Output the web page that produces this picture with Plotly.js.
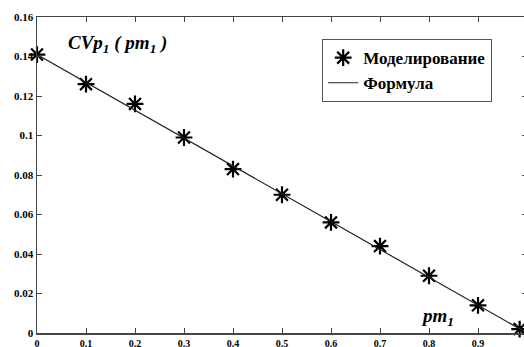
<!DOCTYPE html>
<html><head><meta charset="utf-8">
<script src="https://cdn.plot.ly/plotly-3.0.1.min.js"></script>
<style>html,body{margin:0;padding:0;overflow:hidden;background:#fff;}</style>
</head><body><div id="chart"></div>
<script>
const pm = [0, 0.1, 0.2, 0.3, 0.4, 0.5, 0.6, 0.7, 0.8, 0.9, 0.985];
const simValues = [0.141, 0.126, 0.116, 0.099, 0.083, 0.070, 0.056, 0.044, 0.029, 0.014, 0.002];
const formulaX = [0, 1];
const formulaY = [0.141, 0.0];
const xTicks = [0, 0.1, 0.2, 0.3, 0.4, 0.5, 0.6, 0.7, 0.8, 0.9];
const xTickText = ['0', '0.1', '0.2', '0.3', '0.4', '0.5', '0.6', '0.7', '0.8', '0.9'];
const yTicks = [0, 0.02, 0.04, 0.06, 0.08, 0.1, 0.12, 0.14, 0.16];
const seriesNames = ['Моделирование', 'Формула'];

const serif = 'Liberation Serif';
const traces = [
  {x: pm, y: simValues, mode: 'markers', name: '<b>' + seriesNames[0] + '</b>', cliponaxis: false,
   marker: {symbol: 'asterisk-open', size: 14, color: '#000', line: {color: '#000', width: 2.2}}},
  {x: formulaX, y: formulaY, mode: 'lines', name: '<b>' + seriesNames[1] + '</b>', cliponaxis: false,
   line: {color: '#222', width: 1.2}}
];
const axisCommon = {
  showgrid: false, zeroline: false, showline: true, linecolor: '#444', linewidth: 1.5,
  ticks: 'inside', ticklen: 5, tickcolor: '#444', mirror: 'ticks'
};
const layout = {
  width: 530, height: 347,
  margin: {l: 37, r: 3, t: 17, b: 14},
  paper_bgcolor: '#fff', plot_bgcolor: '#fff',
  showlegend: true,
  font: {family: serif, color: '#000'},
  legend: {x: 0.582, y: 0.93, xanchor: 'left', yanchor: 'top',
    bordercolor: '#555', borderwidth: 1, bgcolor: '#fff',
    font: {family: serif, size: 17, color: '#000'}, tracegroupgap: 0},
  xaxis: Object.assign({}, axisCommon, {range: [0, 1], tickvals: xTicks, ticktext: xTickText,
    tickfont: {family: serif, size: 10, color: '#000', weight: 'bold'}}),
  yaxis: Object.assign({}, axisCommon, {range: [0, 0.16], tickvals: yTicks,
    tickfont: {family: serif, size: 11, color: '#000', weight: 'bold'}}),
  annotations: [
    {x: 0.06, y: 0.1465, xref: 'x', yref: 'y', xanchor: 'left', yanchor: 'middle', showarrow: false,
     text: '<i><b>CVp<sub>1</sub> ( pm<sub>1</sub> )</b></i>', font: {family: serif, size: 19, color: '#000'}},
    {x: 0.78, y: 0.008, xref: 'x', yref: 'y', xanchor: 'left', yanchor: 'middle', showarrow: false,
     text: '<i><b>pm<sub>1</sub></b></i>', font: {family: serif, size: 19, color: '#000'}}
  ]
};
Plotly.newPlot('chart', traces, layout, {displayModeBar: false, staticPlot: true});
</script></body></html>
